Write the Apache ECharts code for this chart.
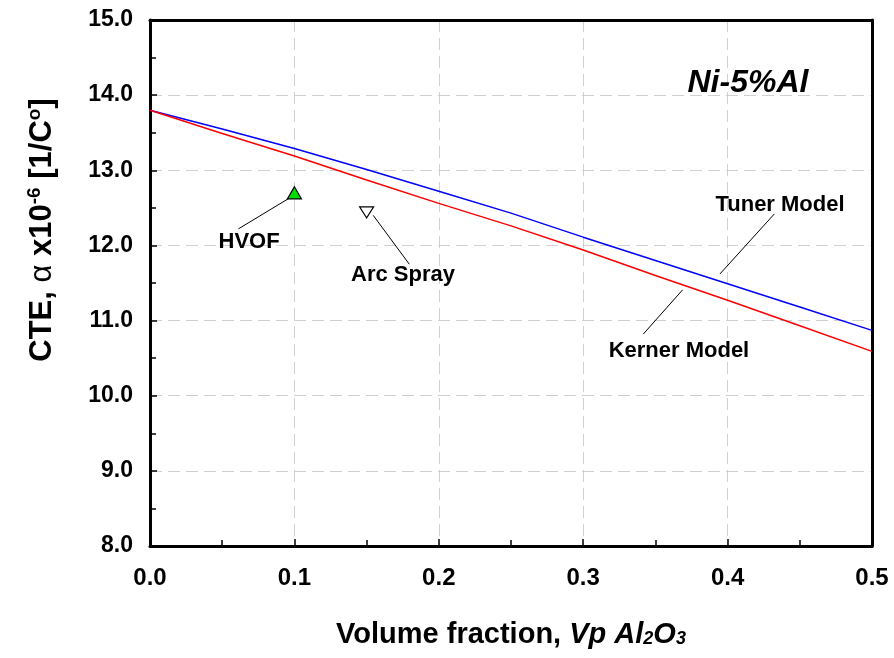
<!DOCTYPE html>
<html>
<head>
<meta charset="utf-8">
<script src="https://cdn.jsdelivr.net/npm/echarts@6/dist/echarts.min.js"></script>
<style>html,body{margin:0;padding:0;background:#fff}#c{width:894px;height:658px}</style>
</head>
<body>
<div id="c"></div>
<script>
// ---- data ----
const fractions = [0, 0.05, 0.1, 0.15, 0.2, 0.25, 0.3, 0.35, 0.4, 0.45, 0.5];
const turnerModel = [13.80, 13.55, 13.29, 13.01, 12.72, 12.43, 12.11, 11.80, 11.49, 11.18, 10.87];
const kernerModel = [13.80, 13.49, 13.19, 12.87, 12.56, 12.26, 11.94, 11.60, 11.27, 10.93, 10.59];
const hvofPoint = [0.10, 12.70];
const arcSprayPoint = [0.15, 12.44];
const xTicks = [0, 0.1, 0.2, 0.3, 0.4, 0.5];
const yTicks = [8, 9, 10, 11, 12, 13, 14, 15];
// annotation leader lines (data coords) and label anchors
const annotations = [
  { name: 'HVOF', label: [0.0686, 12.05], line: [[0.0612, 12.22], [0.0965, 12.63]] },
  { name: 'Arc Spray', label: [0.1752, 11.61], line: [[0.1546, 12.40], [0.1796, 11.75]] },
  { name: 'Tuner Model', label: [0.4363, 12.54], line: [[0.4324, 12.42], [0.3947, 11.62]] },
  { name: 'Kerner Model', label: [0.3663, 10.60], line: [[0.3689, 11.41], [0.3416, 10.82]] }
];
const titleAnchor = [0.4141, 14.16];
const titleText = 'Ni-5%Al';

const FONT = '"Liberation Sans", Arial, sans-serif';
const chart = echarts.init(document.getElementById('c'), null, { renderer: 'canvas' });

const series = [
  {
    type: 'line', name: 'Tuner Model', xAxisIndex: 0, yAxisIndex: 0,
    data: fractions.map((x, i) => [x, turnerModel[i]]),
    showSymbol: false, symbol: 'none',
    lineStyle: { color: '#0000ff', width: 1.5 }, z: 5
  },
  {
    type: 'line', name: 'Kerner Model', xAxisIndex: 0, yAxisIndex: 0,
    data: fractions.map((x, i) => [x, kernerModel[i]]),
    showSymbol: false, symbol: 'none',
    lineStyle: { color: '#ff0000', width: 1.5 }, z: 5
  },
  {
    type: 'scatter', name: 'HVOF', data: [hvofPoint],
    symbol: 'triangle', symbolSize: [14, 12],
    itemStyle: { color: '#00dd00', borderColor: '#000', borderWidth: 1.2, opacity: 1 }, z: 6
  },
  {
    type: 'scatter', name: 'Arc Spray', data: [arcSprayPoint],
    symbol: 'triangle', symbolSize: [14, 11], symbolRotate: 180,
    itemStyle: { color: '#ffffff', borderColor: '#000', borderWidth: 1.2, opacity: 1 }, z: 6
  }
];
const labelStyle = (size, italic) => ({
  show: true, position: 'inside',
  fontFamily: FONT, fontWeight: 'bold', fontStyle: italic ? 'italic' : 'normal',
  fontSize: size, color: '#000', textBorderWidth: 0, textShadowBlur: 0
});
annotations.forEach(a => {
  series.push({
    type: 'line', data: a.line, showSymbol: false, symbol: 'none', silent: true,
    lineStyle: { color: '#000', width: 1 }, z: 4
  });
  series.push({
    type: 'scatter', data: [{ value: a.label, name: a.name }], symbolSize: 0, silent: true,
    itemStyle: { color: '#000', opacity: 1 },
    label: Object.assign(labelStyle(22, false), { formatter: a.name }), z: 7
  });
});
series.push({
  type: 'scatter', data: [{ value: titleAnchor, name: titleText }], symbolSize: 0, silent: true,
  itemStyle: { color: '#000', opacity: 1 },
  label: Object.assign(labelStyle(32, true), { formatter: titleText }), z: 7
});

const option = {
  backgroundColor: '#fff',
  animation: false,
  grid: { left: 150, right: 22, top: 20, bottom: 112, containLabel: false },
  xAxis: [
    {
      type: 'value', min: 0, max: 0.5, interval: 0.1,
      axisLine: { show: true, lineStyle: { color: '#000', width: 3 } },
      axisTick: { show: true, inside: true, length: 7, lineStyle: { color: '#000', width: 1.5 } },
      minorTick: { show: true, splitNumber: 2, length: 6, lineStyle: { color: '#000', width: 1.5 } },
      splitLine: { show: true, lineStyle: { color: '#d0d0d0', width: 1, type: [12, 6] } },
      axisLabel: {
        margin: 20, fontFamily: FONT, fontWeight: 'bold', fontSize: 24, color: '#000',
        formatter: v => (xTicks.some(t => Math.abs(t - v) < 1e-9) ? v.toFixed(1) : '')
      },
      name: 'Volume fraction, {it|Vp Al}{sub|2}{it|O}{sub|3}',
      nameLocation: 'middle', nameGap: 74,
      nameTextStyle: {
        fontFamily: FONT, fontWeight: 'bold', fontSize: 29, color: '#000',
        rich: {
          it: { fontFamily: FONT, fontWeight: 'bold', fontStyle: 'italic', fontSize: 29, color: '#000' },
          sub: { fontFamily: FONT, fontWeight: 'bold', fontStyle: 'italic', fontSize: 18, color: '#000', padding: [10, 0, 0, 0] }
        }
      }
    },
    {
      type: 'value', min: 0, max: 0.5, position: 'top',
      axisLine: { show: true, onZero: false, lineStyle: { color: '#000', width: 3 } },
      axisTick: { show: false }, axisLabel: { show: false }, splitLine: { show: false }
    }
  ],
  yAxis: [
    {
      type: 'value', min: 8, max: 15, interval: 1,
      axisLine: { show: true, lineStyle: { color: '#000', width: 3 } },
      axisTick: { show: true, inside: true, length: 7, lineStyle: { color: '#000', width: 1.5 } },
      minorTick: { show: true, splitNumber: 2, length: 6, lineStyle: { color: '#000', width: 1.5 } },
      splitLine: { show: true, lineStyle: { color: '#d0d0d0', width: 1, type: [12, 6] } },
      axisLabel: {
        margin: 17, fontFamily: FONT, fontWeight: 'bold', fontSize: 23, color: '#000',
        formatter: v => (yTicks.includes(v) ? v.toFixed(1) : '')
      }
    },
    {
      type: 'value', min: 8, max: 15, position: 'right',
      axisLine: { show: true, onZero: false, lineStyle: { color: '#000', width: 3 } },
      axisTick: { show: false }, axisLabel: { show: false }, splitLine: { show: false }
    }
  ],
  graphic: [
    {
      type: 'text', x: 42, y: 230, rotation: Math.PI / 2,
      style: {
        text: 'CTE, {a|α} x10{sup|-6} [1/C{sup|o}]',
        fontFamily: FONT, fontWeight: 'bold', fontSize: 31, fill: '#000',
        align: 'center', verticalAlign: 'middle',
        rich: {
          a: { fontFamily: FONT, fontWeight: 'normal', fontSize: 31, fill: '#000' },
          sup: { fontFamily: FONT, fontWeight: 'bold', fontSize: 19, fill: '#000', padding: [0, 0, 15, 0] }
        }
      }
    }
  ],
  series: series
};
chart.setOption(option);
</script>
</body>
</html>
